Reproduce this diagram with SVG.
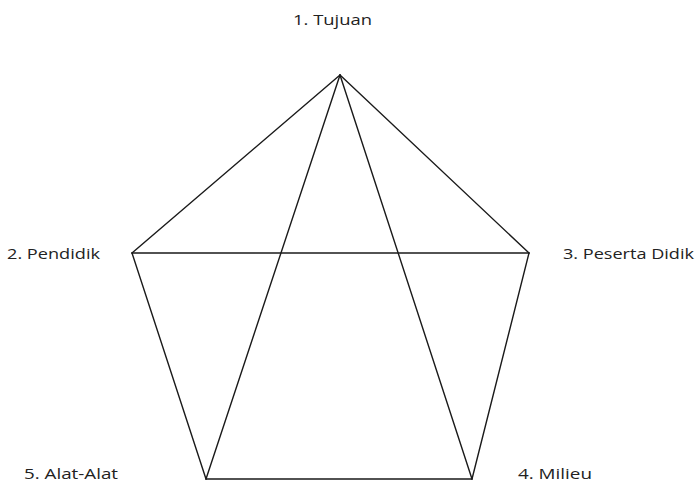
<svg xmlns="http://www.w3.org/2000/svg" width="699" height="484" viewBox="0 0 699 484">
<style>
.e{stroke:#1a1a1a;stroke-width:1.4;fill:none;stroke-linecap:round}
.t{font-family:"Open Sans","Liberation Sans",sans-serif;font-size:14px;fill:#222}
</style>
<rect width="699" height="484" fill="#fff"/>
<g id="connectors">
<line class="e" x1="340" y1="75" x2="132" y2="253"/>
<line class="e" x1="340" y1="75" x2="529" y2="253"/>
<line class="e" x1="132" y1="253" x2="529" y2="253"/>
<line class="e" x1="132" y1="253" x2="206" y2="479"/>
<line class="e" x1="529" y1="253" x2="472" y2="479"/>
<line class="e" x1="206" y1="479" x2="472" y2="479"/>
<line class="e" x1="340" y1="75" x2="206" y2="479"/>
<line class="e" x1="340" y1="75" x2="472" y2="479"/>
</g>
<g id="n1"><text class="t" x="293" y="25" textLength="79" lengthAdjust="spacingAndGlyphs">1. Tujuan</text></g>
<g id="n2"><text class="t" x="7" y="259" textLength="93" lengthAdjust="spacingAndGlyphs">2. Pendidik</text></g>
<g id="n3"><text class="t" x="563" y="259" textLength="131" lengthAdjust="spacingAndGlyphs">3. Peserta Didik</text></g>
<g id="n5"><text class="t" x="24" y="479" textLength="94" lengthAdjust="spacingAndGlyphs">5. Alat-Alat</text></g>
<g id="n4"><text class="t" x="518" y="479" textLength="74" lengthAdjust="spacingAndGlyphs">4. Milieu</text></g>
</svg>
